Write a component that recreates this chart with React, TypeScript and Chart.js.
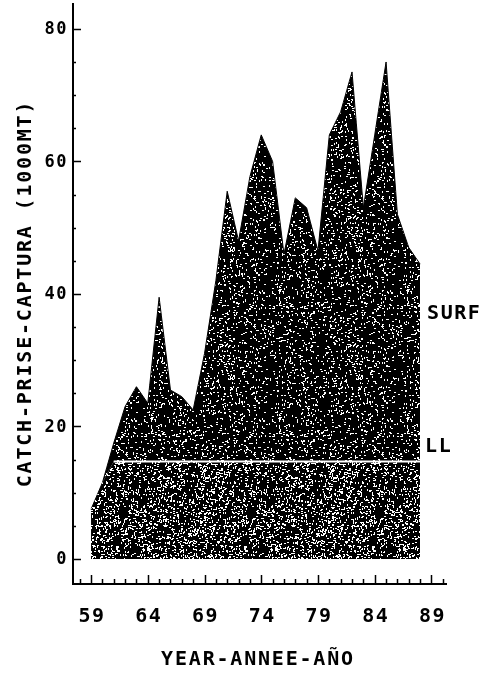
import React, { useEffect, useRef } from "react";
import { Chart, registerables } from "chart.js";

Chart.register(...registerables);

// Catch by gear, thousand metric tons
const years = [
  1959, 1960, 1961, 1962, 1963, 1964, 1965, 1966, 1967, 1968,
  1969, 1970, 1971, 1972, 1973, 1974, 1975, 1976, 1977, 1978,
  1979, 1980, 1981, 1982, 1983, 1984, 1985, 1986, 1987, 1988,
];
const llCatch = [
  7.5, 11.5, 14.7, 14.7, 14.7, 14.7, 14.7, 14.7, 14.7, 14.7,
  14.7, 14.7, 14.7, 14.7, 14.7, 14.7, 14.7, 14.7, 14.7, 14.7,
  14.7, 14.7, 14.7, 14.7, 14.7, 14.7, 14.7, 14.7, 14.7, 14.7,
];
const surfCatch = [
  0, 0, 2.8, 8.3, 11.3, 8.8, 24.8, 10.8, 9.8, 7.8,
  16.3, 27.3, 40.8, 33.3, 43.0, 49.3, 45.3, 31.3, 39.8, 38.3,
  31.8, 49.3, 52.8, 58.8, 38.3, 49.3, 60.3, 37.3, 32.3, 29.8,
];
// the LL boundary is traced in white from this year on
const llLineFrom = 1961;

const yTickValues = [0, 20, 40, 60, 80];
const yMinorStep = 5;
const xTickYears = [1959, 1964, 1969, 1974, 1979, 1984, 1989];
const xTickLabels = ["59", "64", "69", "74", "79", "84", "89"];
const xMinorFirst = 1958;
const xMinorLast = 1990;

const yTitle = "CATCH-PRISE-CAPTURA (1000MT)";
const xTitle = "YEAR-ANNEE-AÑO";
const seriesNames = { surf: "SURF", ll: "LL" };

const FONT = '"DejaVu Sans Mono", monospace';

// Speckled halftone texture used for the filled areas
function speckle(ctx: CanvasRenderingContext2D, density: number, seed: number) {
  const size = 128;
  const c = document.createElement("canvas");
  c.width = size;
  c.height = size;
  const g = c.getContext("2d")!;
  g.fillStyle = "#000";
  g.fillRect(0, 0, size, size);
  g.fillStyle = "#fff";
  let a = seed >>> 0;
  const rnd = () => {
    a = (a + 0x6d2b79f5) | 0;
    let t = Math.imul(a ^ (a >>> 15), 1 | a);
    t = (t + Math.imul(t ^ (t >>> 7), 61 | t)) ^ t;
    return ((t ^ (t >>> 14)) >>> 0) / 4294967296;
  };
  const count = Math.round((size * size * density) / 2);
  for (let i = 0; i < count; i++) {
    const px = Math.floor(rnd() * size);
    const py = Math.floor(rnd() * size);
    const horiz = rnd() < 0.5;
    g.fillRect(px, py, horiz ? 2 : 1, horiz ? 1 : 2);
  }
  return ctx.createPattern(c, "repeat")!;
}

function spacedText(
  ctx: CanvasRenderingContext2D,
  text: string,
  x: number,
  y: number,
  spacing: number
) {
  (ctx as any).letterSpacing = spacing + "px";
  ctx.fillText(text, x, y);
  (ctx as any).letterSpacing = "0px";
}

// White trace along the top of the LL area
const llLinePlugin = {
  id: "llLine",
  afterDatasetsDraw(chart: any) {
    const meta = chart.getDatasetMeta(0);
    const ctx = chart.ctx;
    ctx.save();
    ctx.strokeStyle = "#fff";
    ctx.lineWidth = 2;
    ctx.beginPath();
    let started = false;
    meta.data.forEach((pt: any, i: number) => {
      if (years[i] < llLineFrom) return;
      if (!started) {
        ctx.moveTo(pt.x, pt.y);
        started = true;
      } else ctx.lineTo(pt.x, pt.y);
    });
    ctx.stroke();
    ctx.restore();
  },
};

const axesPlugin = {
  id: "plotterAxes",
  afterDraw(chart: any) {
    const { ctx, chartArea, scales } = chart;
    const { left, right, top, bottom } = chartArea;
    const x = scales.x;
    const y = scales.y;
    ctx.save();
    ctx.strokeStyle = "#000";
    ctx.fillStyle = "#000";
    ctx.lineWidth = 2;

    // axis lines
    ctx.beginPath();
    ctx.moveTo(left, top);
    ctx.lineTo(left, bottom);
    ctx.moveTo(left - 1, bottom);
    ctx.lineTo(right, bottom);
    ctx.stroke();

    // y ticks (inward)
    ctx.lineWidth = 1.5;
    ctx.beginPath();
    for (let v = 0; v <= yTickValues[yTickValues.length - 1]; v += yMinorStep) {
      const py = Math.round(y.getPixelForValue(v)) + 0.5;
      const len = yTickValues.includes(v) ? 8 : 3;
      ctx.moveTo(left, py);
      ctx.lineTo(left + len, py);
    }
    ctx.stroke();

    // x ticks (inward)
    ctx.beginPath();
    for (let yr = xMinorFirst; yr <= xMinorLast; yr++) {
      const px = Math.round(x.getPixelForValue(yr)) + 0.5;
      const len = xTickYears.includes(yr) ? 9 : 5;
      ctx.moveTo(px, bottom);
      ctx.lineTo(px, bottom - len);
    }
    ctx.stroke();

    // y tick labels
    ctx.font = `bold 17px ${FONT}`;
    ctx.textAlign = "right";
    ctx.textBaseline = "middle";
    yTickValues.forEach((v) => {
      spacedText(ctx, String(v), left - 5, y.getPixelForValue(v) + 1, 1.5);
    });

    // x tick labels
    ctx.font = `bold 20px ${FONT}`;
    ctx.textAlign = "center";
    xTickYears.forEach((yr, i) => {
      spacedText(ctx, xTickLabels[i], x.getPixelForValue(yr) + 1, bottom + 33, 1.5);
    });

    // axis titles
    spacedText(ctx, xTitle, (left + right) / 2 - 2, bottom + 76, 1.8);
    ctx.save();
    ctx.translate(26, (top + bottom) / 2);
    ctx.rotate(-Math.PI / 2);
    spacedText(ctx, yTitle, 0, 0, 1.8);
    ctx.restore();

    // series labels at the right end of the areas
    ctx.textAlign = "left";
    const endX = x.getPixelForValue(years[years.length - 1]) + 7;
    spacedText(ctx, seriesNames.surf, endX, y.getPixelForValue(37), 1.5);
    spacedText(ctx, seriesNames.ll, endX - 2, y.getPixelForValue(17), 1.5);

    ctx.restore();
  },
};

export default function App() {
  const ref = useRef<HTMLCanvasElement | null>(null);

  useEffect(() => {
    const canvas = ref.current!;
    const ctx = canvas.getContext("2d")!;
    const llFill = speckle(ctx, 0.26, 7);
    const surfFill = speckle(ctx, 0.14, 91);

    const chart = new Chart(canvas, {
      type: "line",
      data: {
        datasets: [
          {
            label: seriesNames.ll,
            data: years.map((yr, i) => ({ x: yr, y: llCatch[i] })),
            fill: "origin",
            backgroundColor: llFill,
            borderWidth: 0,
            pointRadius: 0,
            tension: 0,
          },
          {
            label: seriesNames.surf,
            data: years.map((yr, i) => ({ x: yr, y: surfCatch[i] })),
            fill: "-1",
            backgroundColor: surfFill,
            borderColor: "#000",
            borderWidth: 1,
            pointRadius: 0,
            tension: 0,
          },
        ],
      },
      options: {
        animation: false,
        responsive: false,
        devicePixelRatio: 1,
        layout: { padding: { left: 73, top: 3, right: 44, bottom: 89 } },
        plugins: {
          legend: { display: false },
          tooltip: { enabled: false },
        },
        scales: {
          x: { type: "linear", min: 1957.41, max: 1990.37, display: false },
          y: { type: "linear", stacked: true, min: -3.77, max: 83.9, display: false },
        },
      },
      plugins: [llLinePlugin, axesPlugin],
    });
    return () => chart.destroy();
  }, []);

  return (
    <div style={{ position: "absolute", left: 0, top: 0, width: 491, height: 673, background: "#fff" }}>
      <canvas ref={ref} width={491} height={673} />
    </div>
  );
}
